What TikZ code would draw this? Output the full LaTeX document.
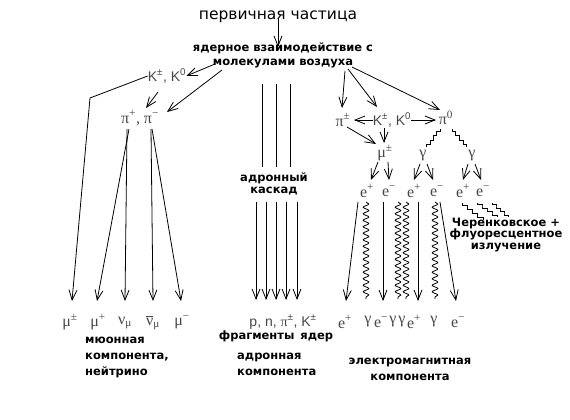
\documentclass[tikz,border=0pt]{standalone}
\usepackage{fontspec}
\setmainfont{Liberation Sans}
\newfontfamily\dvs{DejaVu Sans}
\newfontfamily\srf{Liberation Serif}
\usetikzlibrary{arrows.meta,decorations.pathmorphing}
\begin{document}
\begin{tikzpicture}[x=1pt,y=-1pt,
  arr/.style={-{Straight Barb[length=10pt,width=8pt]}, line width=0.8pt},
  ln/.style={line width=0.8pt},
  wav/.style={line width=0.8pt, decorate, decoration={snake,amplitude=2.8pt,segment length=6.5pt}},
  bl/.style={font=\dvs\bfseries\fontsize{11.5}{14}\selectfont, inner sep=0pt},
  pt/.style={font=\fontsize{14}{14}\selectfont, text=black!72, inner sep=0pt},
  gr/.style={pt, font=\srf\fontsize{16}{16}\selectfont}]
\useasboundingbox[fill=white] (0,0) rectangle (570,420);

% top
\node[font=\dvs\fontsize{15.5}{15.5}\selectfont, inner sep=0pt] (prim) at (278,17) {первичная частица};
\node[bl, align=center] (nucl) at (283,55) {ядерное взаимодействие с\\молекулами воздуха};
\draw[arr] (prim.south) ++(0,-4) -- (278,47);

% left branch
\node[pt] (K1) at (167,76) {K\textsuperscript{±}, K\textsuperscript{0}};
\node[gr] (pi1) at (140,118) {π\textsuperscript{+}, π\textsuperscript{−}};
\draw[arr] (215,64) -- (K1.east);
\draw[arr] (222,70) -- (167,112);
\draw[arr] (158,92) -- (146,108);

\node[gr] (m1) at (70,322) {μ\textsuperscript{±}};
\node[gr] (m2) at (98,322) {μ\textsuperscript{+}};
\node[gr] (n1) at (125,323) {ν\textsubscript{μ}};
\node[gr] (n2) at (153,323) {$\overline{\hbox{\srf\fontsize{16}{16}\selectfont ν}}$\textsubscript{μ}};
\node[gr] (m3) at (182,322) {μ\textsuperscript{−}};

\draw[arr] (K1.west) -- (90,98) -- (72,301);
\draw[arr] (129,129) -- (97,301);
\draw[arr] (127,129) -- (125,301);
\draw[arr] (151,129) -- (153,301);
\draw[arr] (152,129) -- (181,301);

\node[bl, align=left, anchor=north west, font=\dvs\bfseries\fontsize{11.5}{16}\selectfont] (muc) at (85,337) {мюонная\\компонента,\\нейтрино};

% middle branch
\draw[ln] (262,84) -- (262,167);
\draw[ln] (276,84) -- (276,167);
\draw[ln] (290,84) -- (290,167);
\node[bl, align=center, font=\dvs\bfseries\fontsize{11.5}{12}\selectfont] (kask) at (274,184) {адронный\\каскад};
\foreach \x in {256,266,276,286,297}{
  \draw[arr] (\x,202) -- (\x,300);
}
\node[pt] (frag) at (283,322) {p, n, {\srf π}\textsuperscript{±}, K\textsuperscript{±}};
\node[bl] (fragt) at (276,336) {фрагменты\, ядер};
\node[bl, align=left, anchor=north west, font=\dvs\bfseries\fontsize{11.5}{16}\selectfont] (hadc) at (237,353) {адронная\\компонента};

% right branch
\node[gr] (piR) at (343,120) {π\textsuperscript{±}};
\node[pt] (KR) at (392,120) {K\textsuperscript{±}, K\textsuperscript{0}};
\node[gr] (pi0) at (446,118) {π\textsuperscript{0}};
\node[gr] (muR) at (385,153) {μ\textsuperscript{±}};
\node[gr] (g1) at (423,156) {γ};
\node[gr] (g2) at (472,156) {γ};

\draw[arr] (345,71) -- (342,108);
\draw[arr] (348,69) -- (377,107);
\draw[arr] (352,67) -- (440,110);
\draw[arr] (KR.west) -- (354,120);
\draw[arr] (KR.east) -- (436,120);
\draw[arr] (347,127) -- (376,144);
\draw[arr] (384,128) -- (384,143);
\draw[ln] (440,129) \foreach \i in {1,...,4}{ -- ++(0,2.2) -- ++(-3.3,0) -- ++(0,2.2) };
\draw[ln] (452,129) \foreach \i in {1,...,4}{ -- ++(0,2.2) -- ++(3.7,0) -- ++(0,2.2) };

\foreach \n/\x/\s in {e1/367/+,e2/389/−,e3/414/+,e4/437/−,e5/463/+,e6/483/−}{
  \node[gr] (\n) at (\x,191) {e\textsuperscript{\s}};
}
\draw[arr] (378,162) -- (371,180);
\draw[arr] (388,162) -- (389,180);
\draw[arr] (420,164) -- (414,180);
\draw[arr] (427,164) -- (433,180);
\draw[arr] (468,164) -- (463,180);
\draw[arr] (475,164) -- (481,180);

% electromagnetic cascade
\draw[arr] (358,202) -- (346,301);
\draw[wav] (366,202) -- (366,299);
\draw[arr] (383,202) -- (383,301);
\draw[wav] (398,202) -- (398,299);
\draw[wav] (406,202) -- (406,299);
\draw[arr] (418,202) -- (418,301);
\draw[wav] (435,202) -- (435,299);
\draw[arr] (440,202) -- (456,301);

% Cherenkov staircases
\draw[ln] (462,203) \foreach \i in {1,...,4}{ -- ++(0,2.1) -- ++(5.25,0) -- ++(0,2.1) };
\draw[ln] (477,203) \foreach \i in {1,...,4}{ -- ++(0,1.75) -- ++(5,0) -- ++(0,1.75) };
\draw[ln] (492,203) \foreach \i in {1,...,4}{ -- ++(0,1.75) -- ++(4,0) -- ++(0,1.75) };
\node[bl, align=center, font=\dvs\bfseries\fontsize{11.5}{11.5}\selectfont] (cher) at (506,235) {Черенковское +\\флуоресцентное\\излучение};

\foreach \n/\x/\t in {b1/345/e\textsuperscript{+},b2/368/γ,b3/381/e\textsuperscript{−},b4/393/γ,b5/402/γ,b6/414/e\textsuperscript{+},b7/434/γ,b8/458/e\textsuperscript{−}}{
  \node[gr] (\n) at (\x,322) {\t};
}
\node[bl, align=center, font=\dvs\bfseries\fontsize{11.5}{16}\selectfont] (emc) at (410,369) {электромагнитная\\компонента};
\end{tikzpicture}
\end{document}
